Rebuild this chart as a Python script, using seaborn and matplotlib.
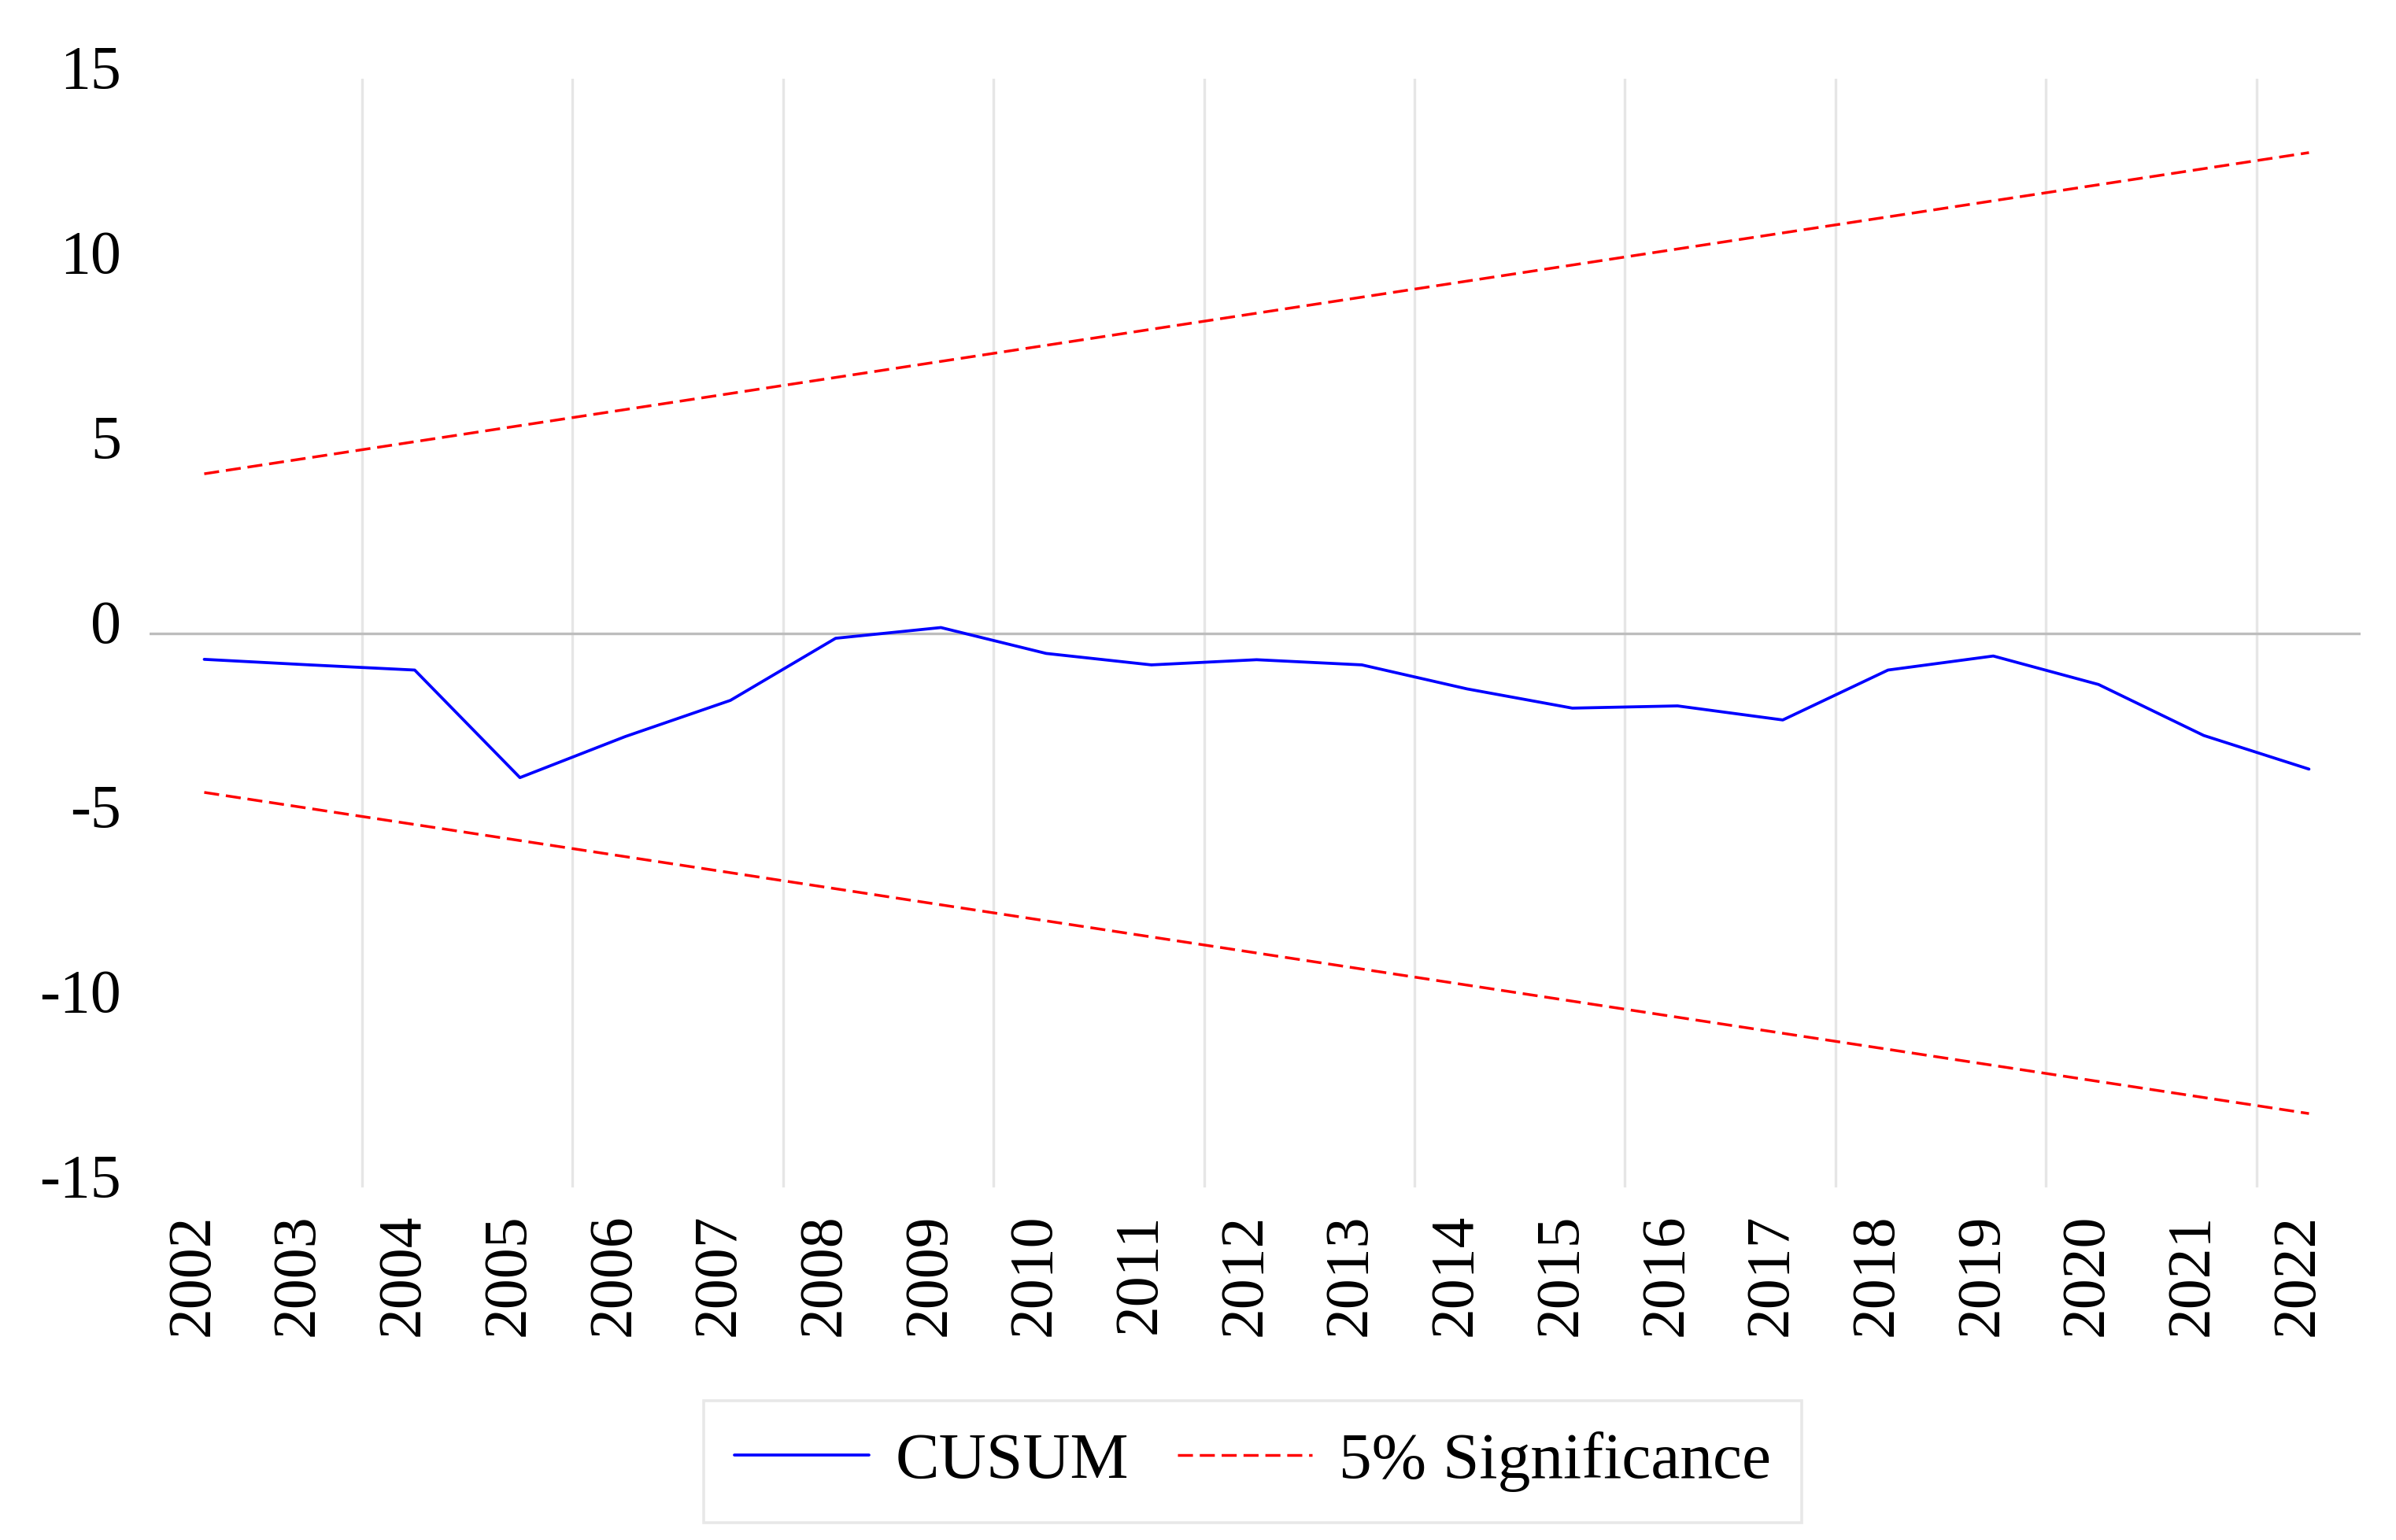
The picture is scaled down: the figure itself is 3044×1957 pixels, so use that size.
import matplotlib
matplotlib.use('Agg')
import pandas as pd
import seaborn as sns
import matplotlib.pyplot as plt
from matplotlib.transforms import ScaledTranslation

# CUSUM statistic, one value per year
years = list(range(2002, 2023))
cusum = [-0.71, -0.86, -1.00, -3.91, -2.80, -1.82, -0.14, 0.15, -0.55, -0.86,
         -0.72, -0.86, -1.51, -2.03, -1.97, -2.35, -1.00, -0.62, -1.39, -2.77,
         -3.68]

# 5% significance bounds (straight lines, read at both ends)
bound_years = [2002, 2022]
upper = [4.31, 13.0]
lower = [-4.31, -13.0]

year_labels = [str(y) for y in years]
y_ticks = [-15, -10, -5, 0, 5, 10, 15]
y_labels = ['-15', '-10', '-5', '0', '5', '10', '15']

df = pd.DataFrame({'Year': years, 'CUSUM': cusum})
bounds = pd.DataFrame({'Year': bound_years, 'upper': upper, 'lower': lower})

sns.set_style('white')
plt.rcParams['font.family'] = ['Liberation Serif', 'DejaVu Serif']
plt.rcParams['text.color'] = 'black'
plt.rcParams['xtick.color'] = 'black'
plt.rcParams['ytick.color'] = 'black'

fig = plt.figure(figsize=(15.22, 9.785), dpi=200)
ax = fig.add_axes([0.0624, 0.2289, 0.9228, 0.72])

sns.lineplot(data=df, x='Year', y='CUSUM', color='#0000ff', lw=1.35,
             label='CUSUM', ax=ax, zorder=3)
sns.lineplot(data=bounds, x='Year', y='upper', color='#ff0000', lw=1.25,
             linestyle=(0, (5.5, 2.5)), label='5% Significance', ax=ax, zorder=3)
sns.lineplot(data=bounds, x='Year', y='lower', color='#ff0000', lw=1.25,
             linestyle=(0, (5.5, 2.5)), ax=ax, zorder=3)

handles, labels = ax.get_legend_handles_labels()
if ax.get_legend() is not None:
    ax.get_legend().remove()

ax.set_xlim(2001.48, 2022.49)
ax.set_ylim(-15, 15)
ax.set_xlabel('')
ax.set_ylabel('')

# ticks and grid
ax.set_xticks(years)
ax.set_xticklabels(year_labels, rotation=90, fontsize=28)
ax.set_xticks([2003.5 + 2 * i for i in range(10)], minor=True)
ax.set_yticks(y_ticks)
ax.set_yticklabels(y_labels, fontsize=28)
ax.set_yticks([-10, -5, 5, 10], minor=True)
ax.tick_params(axis='both', which='both', length=0, labelcolor='black')
ax.tick_params(axis='x', pad=12)
ax.tick_params(axis='y', pad=13)

ax.grid(False)
ax.grid(axis='x', which='minor', color='#e6e6e6', lw=1.2)
ax.grid(axis='y', which='minor', color='#e6e6e6', lw=1.2)
ax.axhline(0, color='#bdbdbd', lw=1.2, zorder=1)
ax.set_axisbelow(True)

sns.despine(ax=ax, left=True, bottom=True)

for lbl in ax.get_yticklabels():
    lbl.set_transform(lbl.get_transform() + ScaledTranslation(0, 5.5 / 72, fig.dpi_scale_trans))
for lbl in ax.get_xticklabels():
    lbl.set_transform(lbl.get_transform() + ScaledTranslation(-5 / 72, 0, fig.dpi_scale_trans))

leg = fig.legend(handles[:2], labels[:2], loc='lower center',
                 bbox_to_anchor=(0.5228, 0.0112), ncol=2, fontsize=30,
                 frameon=True, fancybox=False, borderpad=0.47,
                 handlelength=2.05, handletextpad=0.41, columnspacing=0.74,
                 borderaxespad=0)
leg.get_frame().set_edgecolor('#e3e3e3')
leg.get_frame().set_linewidth(1.3)
for t in leg.get_texts():
    t.set_color('black')

fig.savefig('out.png', dpi=200)
